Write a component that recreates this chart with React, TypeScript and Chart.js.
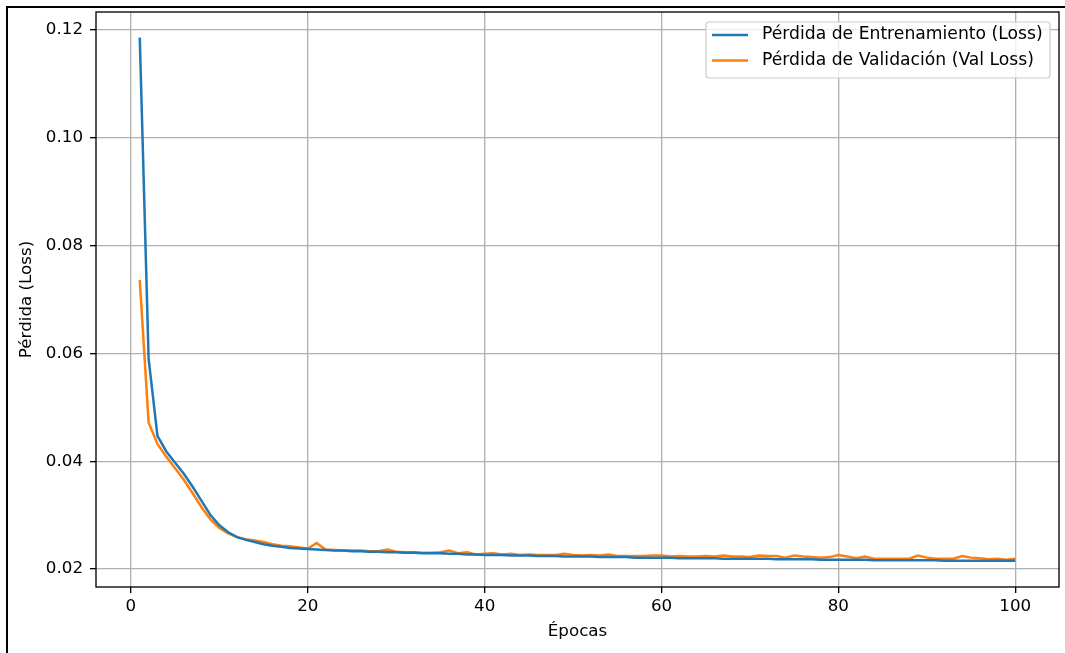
import React, { useEffect, useRef } from "react";
import { Chart, registerables } from "chart.js";

Chart.register(...registerables);

const epochs = [
  1, 2, 3, 4, 5, 6, 7, 8, 9, 10, 11, 12, 13, 14, 15, 16, 17, 18, 19, 20,
  21, 22, 23, 24, 25, 26, 27, 28, 29, 30, 31, 32, 33, 34, 35, 36, 37, 38, 39, 40,
  41, 42, 43, 44, 45, 46, 47, 48, 49, 50, 51, 52, 53, 54, 55, 56, 57, 58, 59, 60,
  61, 62, 63, 64, 65, 66, 67, 68, 69, 70, 71, 72, 73, 74, 75, 76, 77, 78, 79, 80,
  81, 82, 83, 84, 85, 86, 87, 88, 89, 90, 91, 92, 93, 94, 95, 96, 97, 98, 99, 100,
];

const trainLoss = [
  0.1186, 0.059, 0.0447, 0.0418, 0.0397, 0.0376, 0.0352, 0.0326, 0.03, 0.0281,
  0.0268, 0.0259, 0.0254, 0.025, 0.0246, 0.0243, 0.0241, 0.0239, 0.0238, 0.0237,
  0.0236, 0.0235, 0.0234, 0.0234, 0.0233, 0.0233, 0.0232, 0.0232, 0.0231, 0.0231,
  0.023, 0.023, 0.0229, 0.0229, 0.0229, 0.0228, 0.0228, 0.0227, 0.0227, 0.0226,
  0.0226, 0.0226, 0.0225, 0.0225, 0.0225, 0.0224, 0.0224, 0.0224, 0.0223, 0.0223,
  0.0223, 0.0223, 0.0222, 0.0222, 0.0222, 0.0222, 0.0221, 0.0221, 0.0221, 0.0221,
  0.0221, 0.022, 0.022, 0.022, 0.022, 0.022, 0.0219, 0.0219, 0.0219, 0.0219,
  0.0219, 0.0219, 0.0218, 0.0218, 0.0218, 0.0218, 0.0218, 0.0217, 0.0217, 0.0217,
  0.0217, 0.0217, 0.0217, 0.0216, 0.0216, 0.0216, 0.0216, 0.0216, 0.0216, 0.0216,
  0.0216, 0.0215, 0.0215, 0.0215, 0.0215, 0.0215, 0.0215, 0.0215, 0.0215, 0.0215,
];

const valLoss = [
  0.0736, 0.0472, 0.0432, 0.0408, 0.0387, 0.0365, 0.034, 0.0314, 0.0292, 0.0276,
  0.0266, 0.0259, 0.0255, 0.0253, 0.025, 0.0246, 0.0243, 0.0242, 0.024, 0.0238,
  0.0248, 0.0236, 0.0235, 0.0234, 0.0234, 0.0234, 0.0233, 0.0233, 0.0236, 0.0232,
  0.0231, 0.0231, 0.023, 0.023, 0.0231, 0.0234, 0.0229, 0.0231, 0.0227, 0.0228,
  0.0229, 0.0227, 0.0228, 0.0226, 0.0227, 0.0226, 0.0226, 0.0226, 0.0228, 0.0226,
  0.0225, 0.0226, 0.0225, 0.0227, 0.0224, 0.0224, 0.0224, 0.0224, 0.0225, 0.0225,
  0.0223, 0.0224, 0.0223, 0.0223, 0.0224, 0.0223, 0.0225, 0.0223, 0.0223, 0.0222,
  0.0225, 0.0224, 0.0224, 0.0221, 0.0225, 0.0223, 0.0222, 0.0221, 0.0222, 0.0226,
  0.0223, 0.022, 0.0223, 0.0219, 0.0219, 0.0219, 0.0219, 0.0219, 0.0225, 0.0221,
  0.0219, 0.0219, 0.0219, 0.0224, 0.0221, 0.022, 0.0218, 0.0219, 0.0217, 0.0219,
];

const xTicks = [0, 20, 40, 60, 80, 100];
const yTicks = [0.02, 0.04, 0.06, 0.08, 0.1, 0.12];
const seriesLabels = [
  "Pérdida de Entrenamiento (Loss)",
  "Pérdida de Validación (Val Loss)",
];
const seriesColors = ["#1f77b4", "#ff7f0e"];
const xTitle = "Épocas";
const yTitle = "Pérdida (Loss)";

const FONT = "'DejaVu Sans', sans-serif";
const FS = 16.7;
const LEGEND_FS = 17.2;

const decorPlugin = {
  id: "decor",
  beforeDraw(chart: any) {
    const ctx = chart.ctx;
    ctx.save();
    ctx.fillStyle = "#ffffff";
    ctx.fillRect(0, 0, chart.width, chart.height);
    ctx.restore();
  },
  afterDraw(chart: any) {
    const ctx = chart.ctx;
    const a = chart.chartArea;
    ctx.save();
    // axes frame
    ctx.strokeStyle = "#000000";
    ctx.lineWidth = 1.33;
    ctx.strokeRect(a.left, a.top, a.right - a.left, a.bottom - a.top);

    // legend
    const lx = 706, ly = 22, lw = 344, lh = 56, r = 3;
    ctx.beginPath();
    ctx.moveTo(lx + r, ly);
    ctx.lineTo(lx + lw - r, ly);
    ctx.quadraticCurveTo(lx + lw, ly, lx + lw, ly + r);
    ctx.lineTo(lx + lw, ly + lh - r);
    ctx.quadraticCurveTo(lx + lw, ly + lh, lx + lw - r, ly + lh);
    ctx.lineTo(lx + r, ly + lh);
    ctx.quadraticCurveTo(lx, ly + lh, lx, ly + lh - r);
    ctx.lineTo(lx, ly + r);
    ctx.quadraticCurveTo(lx, ly, lx + r, ly);
    ctx.closePath();
    ctx.fillStyle = "rgba(255,255,255,0.8)";
    ctx.fill();
    ctx.strokeStyle = "#cccccc";
    ctx.lineWidth = 1.2;
    ctx.stroke();

    ctx.font = `${LEGEND_FS}px ${FONT}`;
    ctx.textBaseline = "middle";
    ctx.textAlign = "left";
    seriesLabels.forEach((label, i) => {
      const y = 35 + i * 25.5;
      ctx.strokeStyle = seriesColors[i];
      ctx.lineWidth = 2.5;
      ctx.beginPath();
      ctx.moveTo(712, y);
      ctx.lineTo(748, y);
      ctx.stroke();
      ctx.fillStyle = "#000000";
      ctx.fillText(label, 762, y);
    });

    // outer screenshot frame (top and left)
    ctx.fillStyle = "#000000";
    ctx.fillRect(6, 6, chart.width - 6, 2);
    ctx.fillRect(6, 6, 2, chart.height - 6);
    ctx.restore();
  },
};

export default function App() {
  const ref = useRef<HTMLCanvasElement | null>(null);

  useEffect(() => {
    if (!ref.current) return;
    const chart = new Chart(ref.current, {
      type: "line",
      data: {
        datasets: [
          {
            label: seriesLabels[0],
            data: epochs.map((e, i) => ({ x: e, y: trainLoss[i] })),
            borderColor: seriesColors[0],
            backgroundColor: seriesColors[0],
            borderWidth: 2.5,
            pointRadius: 0,
            tension: 0,
          },
          {
            label: seriesLabels[1],
            data: epochs.map((e, i) => ({ x: e, y: valLoss[i] })),
            borderColor: seriesColors[1],
            backgroundColor: seriesColors[1],
            borderWidth: 2.5,
            pointRadius: 0,
            tension: 0,
          },
        ],
      },
      options: {
        responsive: false,
        animation: false,
        devicePixelRatio: 1,
        layout: { padding: { left: 0, top: 12, right: 6, bottom: 0 } },
        plugins: {
          legend: { display: false },
          tooltip: { enabled: false },
        },
        scales: {
          x: {
            type: "linear",
            min: -3.95,
            max: 104.95,
            afterBuildTicks: (s: any) => {
              s.ticks = xTicks.map((v) => ({ value: v }));
            },
            afterFit: (s: any) => {
              s.height = 66;
              s.paddingLeft = 0;
              s.paddingRight = 0;
            },
            grid: {
              color: "#b0b0b0",
              lineWidth: 1.33,
              tickColor: "#000000",
              tickLength: 6,
              drawTicks: true,
            },
            border: { display: false },
            ticks: {
              color: "#000000",
              font: { family: FONT, size: FS },
              padding: 4,
              maxRotation: 0,
              autoSkip: false,
              callback: (v: any) => String(v),
            },
            title: {
              display: true,
              text: xTitle,
              color: "#000000",
              font: { family: FONT, size: FS },
              padding: { top: 0, bottom: 11 },
            },
          },
          y: {
            type: "linear",
            min: 0.01665,
            max: 0.12335,
            afterBuildTicks: (s: any) => {
              s.ticks = yTicks.map((v) => ({ value: v }));
            },
            afterFit: (s: any) => {
              s.width = 96;
              s.paddingTop = 0;
              s.paddingBottom = 0;
            },
            grid: {
              color: "#b0b0b0",
              lineWidth: 1.33,
              tickColor: "#000000",
              tickLength: 6,
              drawTicks: true,
            },
            border: { display: false },
            ticks: {
              color: "#000000",
              font: { family: FONT, size: FS },
              padding: 7,
              autoSkip: false,
              callback: (v: any) => Number(v).toFixed(2),
            },
            title: {
              display: true,
              text: yTitle,
              color: "#000000",
              font: { family: FONT, size: FS },
              padding: { top: 17, bottom: 0 },
            },
          },
        },
      },
      plugins: [decorPlugin],
    });
    return () => chart.destroy();
  }, []);

  return (
    <div style={{ position: "absolute", left: 0, top: 0, width: 1065, height: 653 }}>
      <canvas ref={ref} width={1065} height={653} style={{ width: 1065, height: 653, display: "block" }} />
    </div>
  );
}
